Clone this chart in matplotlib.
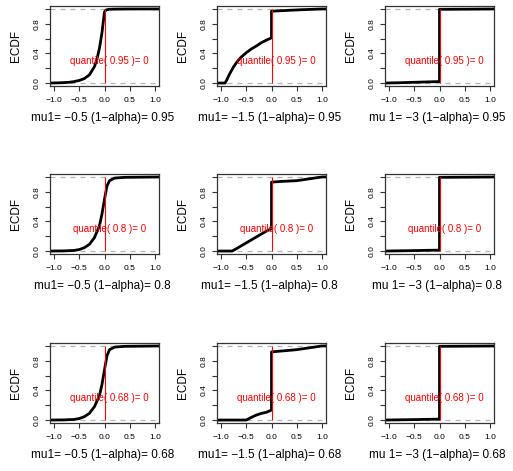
import matplotlib
matplotlib.use("Agg")
import matplotlib.pyplot as plt

plt.rcParams['font.family'] = ['Liberation Sans', 'DejaVu Sans']

mu_labels = ["mu1= \u22120.5", "mu1= \u22121.5", "mu 1= \u22123"]
alphas = ["0.95", "0.8", "0.68"]
quantile_value = 0

# ECDF curves: (x, y) points per panel, row = alpha, col = mu
ecdf_x = {
    (0, 0): [-1.08, -0.9, -0.8, -0.7, -0.6, -0.5, -0.4, -0.3, -0.2, -0.15, -0.1, -0.05, -0.02, 0.0, 0.03, 0.08, 0.2, 0.5, 1.08],
    (0, 1): [-1.08, -0.92, -0.88, -0.84, -0.8, -0.75, -0.7, -0.65, -0.6, -0.55, -0.5, -0.4, -0.3, -0.2, -0.1, 0.0, 0.0, 0.3, 0.6, 1.0, 1.08],
    (0, 2): [-1.08, -0.8, -0.5, -0.2, 0.0, 0.0, 0.5, 1.08],
    (1, 0): [-1.08, -0.8, -0.6, -0.5, -0.4, -0.3, -0.2, -0.1, -0.05, 0.0, 0.05, 0.1, 0.2, 0.4, 1.08],
    (1, 1): [-1.08, -0.78, -0.7, -0.6, -0.5, -0.4, -0.3, -0.2, -0.1, 0.0, 0.0, 0.2, 0.5, 0.8, 1.0, 1.08],
    (1, 2): [-1.08, -0.8, -0.5, -0.2, 0.0, 0.0, 0.5, 1.08],
    (2, 0): [-1.08, -0.8, -0.6, -0.5, -0.4, -0.3, -0.2, -0.1, -0.05, 0.0, 0.05, 0.1, 0.2, 0.4, 1.08],
    (2, 1): [-1.08, -0.5, -0.4, -0.3, -0.2, -0.1, 0.0, 0.0, 0.25, 0.5, 0.75, 1.0, 1.08],
    (2, 2): [-1.08, -0.8, -0.5, -0.2, 0.0, 0.0, 0.5, 1.08],
}
ecdf_y = {
    (0, 0): [0.0, 0.003, 0.006, 0.01, 0.02, 0.035, 0.06, 0.11, 0.22, 0.32, 0.47, 0.68, 0.85, 0.96, 0.985, 0.995, 0.998, 1.0, 1.0],
    (0, 1): [0.0, 0.0, 0.05, 0.11, 0.16, 0.22, 0.27, 0.315, 0.35, 0.38, 0.41, 0.46, 0.5, 0.545, 0.58, 0.61, 0.97, 0.98, 0.99, 1.0, 1.0],
    (0, 2): [0.0, 0.004, 0.01, 0.016, 0.02, 0.995, 0.997, 1.0],
    (1, 0): [0.0, 0.002, 0.008, 0.02, 0.045, 0.09, 0.18, 0.34, 0.5, 0.7, 0.88, 0.95, 0.985, 0.995, 1.0],
    (1, 1): [0.0, 0.0, 0.03, 0.07, 0.11, 0.15, 0.19, 0.23, 0.27, 0.3, 0.93, 0.94, 0.95, 0.98, 1.0, 1.0],
    (1, 2): [0.0, 0.003, 0.006, 0.01, 0.012, 0.995, 0.997, 1.0],
    (2, 0): [0.0, 0.002, 0.008, 0.02, 0.045, 0.09, 0.18, 0.33, 0.48, 0.68, 0.87, 0.95, 0.985, 0.995, 1.0],
    (2, 1): [0.0, 0.0, 0.036, 0.067, 0.09, 0.105, 0.135, 0.92, 0.935, 0.95, 0.975, 1.0, 1.0],
    (2, 2): [0.0, 0.003, 0.006, 0.01, 0.012, 0.995, 0.997, 1.0],
}

fig = plt.figure(figsize=(5.13, 4.71), dpi=100)
W, H = 513.0, 471.0
col_left = [50, 217, 385]
row_top = [6, 174, 343]
aw, ah = 109, 80

for r in range(3):
    for c in range(3):
        ax = fig.add_axes([col_left[c] / W, 1 - (row_top[r] + ah) / H, aw / W, ah / H])
        ax.set_xlim(-1.08, 1.08)
        ax.set_ylim(-0.04, 1.04)
        ax.axhline(0, color='#B3B3B3', ls=(0, (4, 4)), lw=0.9, zorder=1)
        ax.axhline(1, color='#B3B3B3', ls=(0, (4, 4)), lw=0.9, zorder=1)
        ax.plot(ecdf_x[(r, c)], ecdf_y[(r, c)], color='black', lw=2.0, zorder=2,
                solid_joinstyle='round')
        ax.vlines(quantile_value, 0, 1, color='red', lw=0.8, zorder=3)
        ax.text(0.1, 0.3, "quantile( %s )= %d" % (alphas[r], quantile_value),
                color='red', fontsize=7, ha='center', va='center', zorder=4)
        ax.set_xticks([-1.0, -0.5, 0.0, 0.5, 1.0])
        ax.set_xticklabels(["\u22121.0", "\u22120.5", "0.0", "0.5", "1.0"])
        ax.set_yticks([0.0, 0.2, 0.4, 0.6, 0.8, 1.0])
        ax.set_yticklabels(["0.0", "", "0.4", "", "0.8", ""], rotation=90, va='center')
        ax.tick_params(axis='both', labelsize=6, length=3.5, width=0.8, color='#333333')
        ax.tick_params(axis='x', pad=4.5)
        ax.tick_params(axis='y', pad=3)
        for s in ax.spines.values():
            s.set_linewidth(0.9)
            s.set_color('#333333')
        ax.set_xlabel("%s (1\u2212alpha)= %s" % (mu_labels[c], alphas[r]), fontsize=8.5)
        ax.xaxis.set_label_coords(0.48, -0.33)
        ax.set_ylabel("ECDF", fontsize=8.5)
        ax.yaxis.set_label_coords(-0.26, 0.5)

fig.savefig("out.png", dpi=100)
